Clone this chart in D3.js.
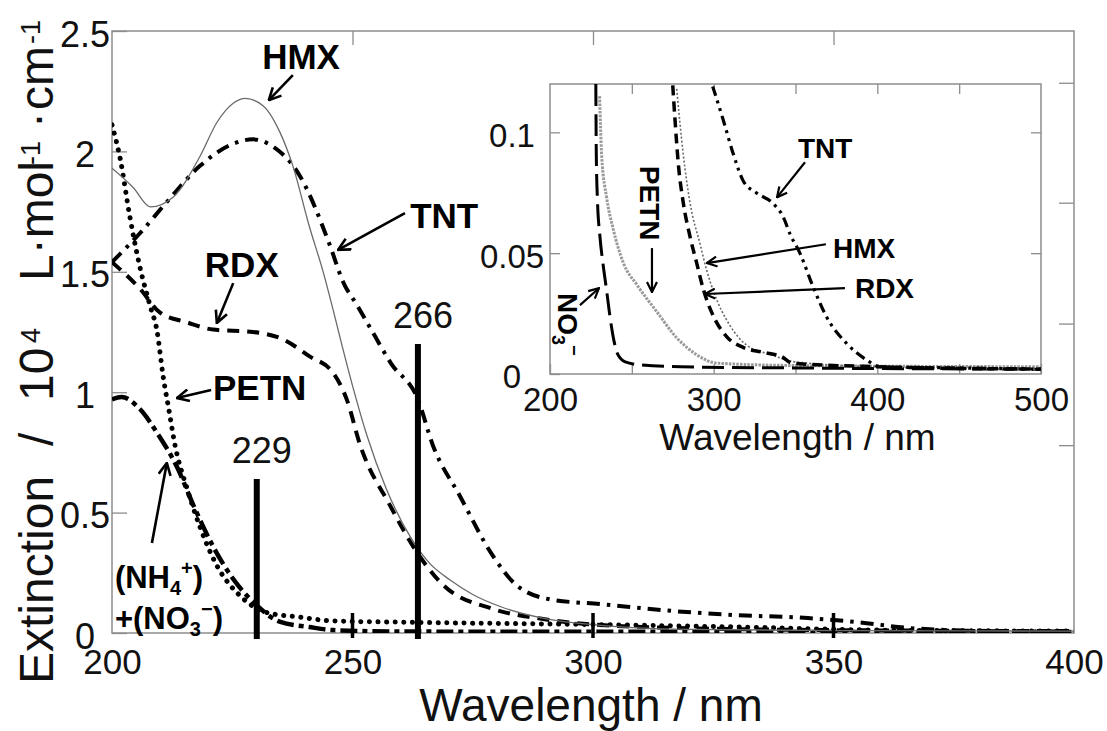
<!DOCTYPE html>
<html><head><meta charset="utf-8">
<script src="https://cdn.jsdelivr.net/npm/d3@7"></script>
<style>
html,body{margin:0;padding:0;background:#fff;}
svg{display:block;font-family:"Liberation Sans",Arial,Helvetica,sans-serif;}
text{white-space:pre;}
</style>
</head><body>
<svg id="chart" width="1107" height="731"></svg>
<script>
// ---------------- DATA ----------------
// main panel ticks
const mainXTicks = [200, 250, 300, 350, 400];
const mainYTicks = [0, 0.5, 1, 1.5, 2, 2.5];
const mainYTickLabels = ["0", "0.5", "1", "1.5", "2", "2.5"];
const mainRightTicks = [0.78, 1.285, 1.787, 2.285];
const mainTopTicks = [250, 300, 350];

// main panel spectra (wavelength nm, extinction / 10^4 L mol-1 cm-1)
const hmxWl  = [200,204.4,208,212.7,218.3,221.8,225.2,227.7,231.4,234.9,237.6,241,243.9,246,248,250.1,253,257,262,266,270.3,275,280.7,290,300,320,350,400];
const hmxVal = [1.93,1.85,1.77,1.81,1.98,2.12,2.2,2.22,2.19,2.08,1.94,1.69,1.5,1.34,1.18,1.02,0.82,0.6,0.4,0.29,0.22,0.16,0.11,0.06,0.035,0.015,0.01,0.008];

const tntWl  = [200,205.8,211.4,218.3,225,229.3,233.5,239,245.3,248,251,253.6,258,263.6,266.7,272.3,279.2,284,291,301.5,317.5,329,344.7,355,365,375,385,400];
const tntVal = [1.54,1.66,1.79,1.94,2.03,2.05,2.02,1.9,1.61,1.46,1.36,1.27,1.12,0.97,0.78,0.57,0.32,0.2,0.14,0.12,0.09,0.075,0.062,0.045,0.022,0.011,0.007,0.006];

const rdxWl  = [200,205.8,210,215.6,221,229.3,235.5,241,246,248.8,251.6,257.8,262.6,268.8,279.2,289,300,320,350,400];
const rdxVal = [1.54,1.43,1.33,1.29,1.26,1.25,1.22,1.15,1.08,0.97,0.78,0.53,0.36,0.2,0.1,0.06,0.035,0.02,0.012,0.008];

const petnWl  = [200,201.7,203.7,205.8,207.9,209.4,210.6,211.8,213.1,215.6,218.3,221.8,226.6,232,239,246,260,300,330,360,400];
const petnVal = [2.11,1.97,1.73,1.52,1.36,1.25,1.07,0.93,0.78,0.6,0.44,0.28,0.155,0.086,0.066,0.05,0.045,0.035,0.025,0.012,0.008];

const nhWl  = [200,202,205.8,209.4,213.5,217,221,225.2,229.3,235,241,246,260,300,400];
const nhVal = [0.97,0.98,0.93,0.83,0.69,0.527,0.36,0.224,0.13,0.046,0.025,0.012,0.006,0.005,0.004];

// laser lines
const barWl = [230.1, 263.6];
const barVal = [0.64, 1.2];
const barLabels = ["229", "266"];

// inset ticks
const insetXTicks = [200, 250, 300, 350, 400, 450, 500];
const insetXLabelTicks = [200, 300, 400, 500];
const insetYTicks = [0, 0.05, 0.1];
const insetYTickLabels = ["0", "0.05", "0.1"];

// inset spectra
const no3IWl  = [228,228.3,229,230.5,232.5,234.5,236.6,239,241.5,246,255,280,350,500];
const no3IVal = [0.12,0.09,0.072,0.057,0.045,0.035,0.024,0.014,0.008,0.005,0.0038,0.003,0.0025,0.002];

const petnIWl  = [230.3,231.6,234.6,238.6,244.8,253,265,277.4,289.6,301.8,350,500];
const petnIVal = [0.115,0.09,0.073,0.06,0.046,0.037,0.026,0.015,0.008,0.0045,0.0035,0.003];

const rdxIWl  = [275,276.4,278.4,281.4,285.5,289.6,293.7,299.8,307.9,318,330,342,348,400,500];
const rdxIVal = [0.1194,0.105,0.087,0.071,0.057,0.046,0.035,0.024,0.0155,0.011,0.009,0.007,0.0045,0.003,0.002];

const hmxIWl  = [277.4,281.4,285.5,291.6,295.7,300,310,320,335,350,400,500];
const hmxIVal = [0.118,0.091,0.071,0.054,0.043,0.034,0.02,0.012,0.008,0.005,0.003,0.002];

const tntIWl  = [299.4,305.9,312,318,326,336.4,342.5,346.6,352.7,360.8,369,381,393.5,401.6,450,500];
const tntIVal = [0.119,0.105,0.091,0.08,0.075,0.0705,0.065,0.058,0.05,0.036,0.0236,0.0128,0.0058,0.003,0.0025,0.002];

// annotations (data coordinates)
const mainLabelText   = ["HMX", "TNT", "RDX", "PETN"];
const mainLabelWl     = [239.3, 262.0, 219.3, 221.0];
const mainLabelVal    = [2.342, 1.682, 1.478, 0.968];
const mainLabelAnchor = ["middle", "start", "start", "start"];
const mainArrows = [
  [237.6, 2.317, 232.6, 2.213],
  [260.9, 1.744, 247.0, 1.591],
  [225.2, 1.453, 221.8, 1.287],
  [220.6, 1.009, 213.5, 0.976],
  [208.3, 0.374, 211.4, 0.706]
];
const insetLabelText = ["TNT", "HMX", "RDX"];
const insetLabelWl   = [351.5, 372.9, 386.3];
const insetLabelVal  = [0.0893, 0.0479, 0.0314];
const insetArrows = [
  [355.8, 0.0876, 338.7, 0.0731],
  [368.6, 0.0537, 295.9, 0.0459],
  [380.2, 0.0355, 294.7, 0.0331],
  [262.3, 0.0521, 262.3, 0.0339],
  [218.3, 0.0285, 229.9, 0.0355]
];

// ---------------- DRAW ----------------
const svg = d3.select("#chart");
const frameColor = "#8d8d8d";

const x = d3.scaleLinear().domain([200, 400]).range([112, 1074]);
const y = d3.scaleLinear().domain([0, 2.5]).range([633, 31]);
const xi = d3.scaleLinear().domain([200, 500]).range([550, 1041]);
const yi = d3.scaleLinear().domain([0, 0.12]).range([374, 84]);

const defs = svg.append("defs");
defs.append("clipPath").attr("id", "clipMain").append("rect")
  .attr("x", x(200)).attr("y", y(2.5)).attr("width", x(400) - x(200)).attr("height", y(0) - y(2.5));
defs.append("clipPath").attr("id", "clipInset").append("rect")
  .attr("x", xi(200)).attr("y", yi(0.12)).attr("width", xi(500) - xi(200)).attr("height", yi(0) - yi(0.12));
function arrowMarker(id, sz, sw) {
  defs.append("marker").attr("id", id)
    .attr("viewBox", `0 0 ${sz} ${sz}`).attr("refX", sz - 1).attr("refY", sz / 2)
    .attr("markerWidth", sz).attr("markerHeight", sz)
    .attr("markerUnits", "userSpaceOnUse").attr("orient", "auto")
    .append("path").attr("d", `M1,1 L${sz - 1},${sz / 2} L1,${sz - 1}`)
    .attr("fill", "none").attr("stroke", "#000").attr("stroke-width", sw)
    .attr("stroke-linejoin", "miter");
}
arrowMarker("ahMain", 14, 2.6);
arrowMarker("ahInset", 12, 2.2);

const zip = (a, b) => a.map((d, i) => [d, b[i]]);

// ---- main axes ----
const gMain = svg.append("g");
gMain.append("rect").attr("x", x(200)).attr("y", y(2.5))
  .attr("width", x(400) - x(200)).attr("height", y(0) - y(2.5))
  .attr("fill", "none").attr("stroke", frameColor).attr("stroke-width", 1.5);

const axL = gMain.append("g").attr("transform", `translate(${x(200)},0)`)
  .call(d3.axisLeft(y).tickValues(mainYTicks).tickFormat((d, i) => mainYTickLabels[i])
    .tickSizeInner(-15).tickSizeOuter(0));
axL.select(".domain").remove();
axL.selectAll("line").attr("stroke", frameColor).attr("stroke-width", 1.3);
axL.selectAll("text").attr("x", -27).attr("dy", "0.42em").attr("text-anchor", "middle")
  .attr("font-size", 36).attr("fill", "#111").attr("font-family", "Liberation Sans, Arial, sans-serif");

const axB = gMain.append("g").attr("transform", `translate(0,${y(0)})`)
  .call(d3.axisBottom(x).tickValues(mainXTicks).tickFormat(d3.format("d"))
    .tickSizeInner(0).tickSizeOuter(0).tickPadding(16));
axB.select(".domain").remove();
axB.selectAll("text").attr("font-size", 35).attr("fill", "#111").attr("font-family", "Liberation Sans, Arial, sans-serif");

const axT = gMain.append("g").attr("transform", `translate(0,${y(2.5)})`)
  .call(d3.axisTop(x).tickValues(mainTopTicks).tickSizeInner(-14).tickSizeOuter(0).tickFormat(""));
axT.select(".domain").remove();
axT.selectAll("line").attr("stroke", frameColor).attr("stroke-width", 1.3);

const axR = gMain.append("g").attr("transform", `translate(${x(400)},0)`)
  .call(d3.axisRight(y).tickValues(mainRightTicks).tickSizeInner(-15).tickSizeOuter(0).tickFormat(""));
axR.select(".domain").remove();
axR.selectAll("line").attr("stroke", frameColor).attr("stroke-width", 1.3);

// ---- main series ----
const lineMain = d3.line().x(d => x(d[0])).y(d => y(d[1])).curve(d3.curveMonotoneX);
const gSeries = gMain.append("g").attr("clip-path", "url(#clipMain)");
const mainSeries = [
  {wl: nhWl,   v: nhVal,   stroke: "#000", w: 4.5, dash: "17,5,5,5", cap: "butt"},
  {wl: petnWl, v: petnVal, stroke: "#000", w: 5,   dash: "0.1,8.5",  cap: "round"},
  {wl: rdxWl,  v: rdxVal,  stroke: "#000", w: 4,   dash: "12,8",     cap: "butt"},
  {wl: tntWl,  v: tntVal,  stroke: "#000", w: 4,   dash: "13,7,3.5,7", cap: "butt"},
  {wl: hmxWl,  v: hmxVal,  stroke: "#6a6a6a", w: 1.3, dash: null,   cap: "butt"}
];
mainSeries.forEach(s => {
  gSeries.append("path").datum(zip(s.wl, s.v))
    .attr("d", lineMain).attr("fill", "none")
    .attr("stroke", s.stroke).attr("stroke-width", s.w)
    .attr("stroke-dasharray", s.dash).attr("stroke-linecap", s.cap);
});

// bottom "+" ticks
gMain.append("g").selectAll("line").data(mainTopTicks).join("line")
  .attr("x1", d => x(d)).attr("x2", d => x(d))
  .attr("y1", y(0) + 5).attr("y2", y(0) - 20)
  .attr("stroke", "#000").attr("stroke-width", 3.5);

// laser bars
gMain.append("g").selectAll("line").data(barWl).join("line")
  .attr("x1", d => x(d)).attr("x2", d => x(d))
  .attr("y1", y(0) + 6).attr("y2", (d, i) => y(barVal[i]))
  .attr("stroke", "#000").attr("stroke-width", 6);
gMain.append("g").selectAll("text").data(barWl).join("text")
  .attr("x", d => x(d) + 5).attr("y", (d, i) => y(barVal[i]) - 16)
  .attr("text-anchor", "middle").attr("font-size", 36).attr("fill", "#111")
  .text((d, i) => barLabels[i]);

// main labels
gMain.append("g").selectAll("text").data(mainLabelText).join("text")
  .attr("x", (d, i) => x(mainLabelWl[i])).attr("y", (d, i) => y(mainLabelVal[i]))
  .attr("text-anchor", (d, i) => mainLabelAnchor[i])
  .attr("font-size", 35).attr("font-weight", "bold").attr("fill", "#000")
  .text(d => d);

const nhT = gMain.append("text").attr("x", x(200.6)).attr("y", y(0.187))
  .attr("font-size", 31).attr("font-weight", "bold");
nhT.append("tspan").text("(NH");
nhT.append("tspan").attr("font-size", 20).attr("dy", 7).text("4");
nhT.append("tspan").attr("font-size", 20).attr("dy", -20).text("+");
nhT.append("tspan").attr("dy", 13).text(")");
const no3T = gMain.append("text").attr("x", x(200.6)).attr("y", y(0.017))
  .attr("font-size", 31).attr("font-weight", "bold");
no3T.append("tspan").text("+(NO");
no3T.append("tspan").attr("font-size", 20).attr("dy", 7).text("3");
no3T.append("tspan").attr("font-size", 20).attr("dy", -20).text("\u2212");
no3T.append("tspan").attr("dy", 13).text(")");

gMain.append("g").selectAll("line").data(mainArrows).join("line")
  .attr("x1", d => x(d[0])).attr("y1", d => y(d[1]))
  .attr("x2", d => x(d[2])).attr("y2", d => y(d[3]))
  .attr("stroke", "#000").attr("stroke-width", 2.6)
  .attr("marker-end", "url(#ahMain)");

// axis titles
svg.append("text").attr("x", 591).attr("y", 721)
  .attr("text-anchor", "middle").attr("font-size", 46).attr("fill", "#111")
  .text("Wavelength / nm");

// y title: rotated, laid out along its baseline
const yt = svg.append("text").attr("transform", "translate(53,684) rotate(-90)")
  .attr("font-size", 48).attr("fill", "#111");
const ytParts = [
  {t: "Extinction", at: 0,   sup: false},
  {t: "/",          at: 238, sup: false},
  {t: "10",         at: 283, sup: false},
  {t: "4",          at: 341, sup: true},
  {t: "L\u00B7mol", at: 403, sup: false},
  {t: "-1",         at: 519, sup: true},
  {t: "\u00B7",     at: 556, sup: false},
  {t: "cm",         at: 574, sup: false},
  {t: "-1",         at: 640, sup: true}
];
ytParts.forEach(p => {
  yt.append("tspan").attr("x", p.at).attr("y", p.sup ? -13 : 0)
    .attr("font-size", p.sup ? 27 : 48).text(p.t);
});

// ---------------- INSET ----------------
const gIn = svg.append("g");
gIn.append("rect").attr("x", xi(200)).attr("y", yi(0.12))
  .attr("width", xi(500) - xi(200)).attr("height", yi(0) - yi(0.12))
  .attr("fill", "#fff").attr("stroke", frameColor).attr("stroke-width", 1.5);

const iaxL = gIn.append("g").attr("transform", `translate(${xi(200)},0)`)
  .call(d3.axisLeft(yi).tickValues(insetYTicks).tickFormat((d, i) => insetYTickLabels[i])
    .tickSizeInner(-10).tickSizeOuter(0));
iaxL.select(".domain").remove();
iaxL.selectAll("line").attr("stroke", frameColor).attr("stroke-width", 1.3);
iaxL.selectAll("text").attr("x", -38).attr("dy", "0.42em").attr("text-anchor", "middle")
  .attr("font-size", 33).attr("fill", "#111").attr("font-family", "Liberation Sans, Arial, sans-serif");

const iaxR = gIn.append("g").attr("transform", `translate(${xi(500)},0)`)
  .call(d3.axisRight(yi).tickValues(insetYTicks.slice(1)).tickSizeInner(-10).tickSizeOuter(0).tickFormat(""));
iaxR.select(".domain").remove();
iaxR.selectAll("line").attr("stroke", frameColor).attr("stroke-width", 1.3);

const iaxB = gIn.append("g").attr("transform", `translate(0,${yi(0)})`)
  .call(d3.axisBottom(xi).tickValues(insetXTicks)
    .tickFormat(d => insetXLabelTicks.includes(d) ? String(d) : "")
    .tickSizeInner(-10).tickSizeOuter(0).tickPadding(14));
iaxB.select(".domain").remove();
iaxB.selectAll("line").attr("stroke", frameColor).attr("stroke-width", 1.3);
iaxB.selectAll("text").attr("y", 14).attr("font-size", 33).attr("fill", "#111").attr("font-family", "Liberation Sans, Arial, sans-serif");

const iaxT = gIn.append("g").attr("transform", `translate(0,${yi(0.12)})`)
  .call(d3.axisTop(xi).tickValues(insetXTicks.slice(1, -1)).tickSizeInner(-10).tickSizeOuter(0).tickFormat(""));
iaxT.select(".domain").remove();
iaxT.selectAll("line").attr("stroke", frameColor).attr("stroke-width", 1.3);

gIn.append("text").attr("x", (xi(200) + xi(500)) / 2 + 2).attr("y", 450)
  .attr("text-anchor", "middle").attr("font-size", 37).attr("fill", "#111")
  .text("Wavelength / nm");

const lineIn = d3.line().x(d => xi(d[0])).y(d => yi(d[1])).curve(d3.curveMonotoneX);
const gInS = gIn.append("g").attr("clip-path", "url(#clipInset)");
const insetSeries = [
  {wl: petnIWl, v: petnIVal, stroke: "#9a9a9a", w: 3,   dash: "2.5,1.2"},
  {wl: no3IWl,  v: no3IVal,  stroke: "#000",    w: 3,   dash: "22,8"},
  {wl: hmxIWl,  v: hmxIVal,  stroke: "#6a6a6a", w: 1.6, dash: "2,2"},
  {wl: rdxIWl,  v: rdxIVal,  stroke: "#000",    w: 3.5, dash: "10,6"},
  {wl: tntIWl,  v: tntIVal,  stroke: "#000",    w: 3.2, dash: "10,5,3,5,3,5"}
];
insetSeries.forEach(s => {
  gInS.append("path").datum(zip(s.wl, s.v))
    .attr("d", lineIn).attr("fill", "none")
    .attr("stroke", s.stroke).attr("stroke-width", s.w)
    .attr("stroke-dasharray", s.dash);
});

gIn.append("g").selectAll("text").data(insetLabelText).join("text")
  .attr("x", (d, i) => xi(insetLabelWl[i])).attr("y", (d, i) => yi(insetLabelVal[i]))
  .attr("font-size", 28).attr("font-weight", "bold").attr("fill", "#000")
  .text(d => d);
gIn.append("text")
  .attr("transform", `translate(${xi(255.0)},${yi(0.0707)}) rotate(90)`)
  .attr("text-anchor", "middle").attr("font-size", 28).attr("font-weight", "bold")
  .text("PETN");
const no3L = gIn.append("text")
  .attr("transform", `translate(${xi(204.9)},${yi(0.0335)}) rotate(90)`)
  .attr("font-size", 28).attr("font-weight", "bold");
no3L.append("tspan").text("NO");
no3L.append("tspan").attr("font-size", 18).attr("dy", 6).text("3");
no3L.append("tspan").attr("font-size", 18).attr("dy", -16).text("\u2212");

gIn.append("g").selectAll("line").data(insetArrows).join("line")
  .attr("x1", d => xi(d[0])).attr("y1", d => yi(d[1]))
  .attr("x2", d => xi(d[2])).attr("y2", d => yi(d[3]))
  .attr("stroke", "#000").attr("stroke-width", 2.2)
  .attr("marker-end", "url(#ahInset)");
</script>
</body></html>
